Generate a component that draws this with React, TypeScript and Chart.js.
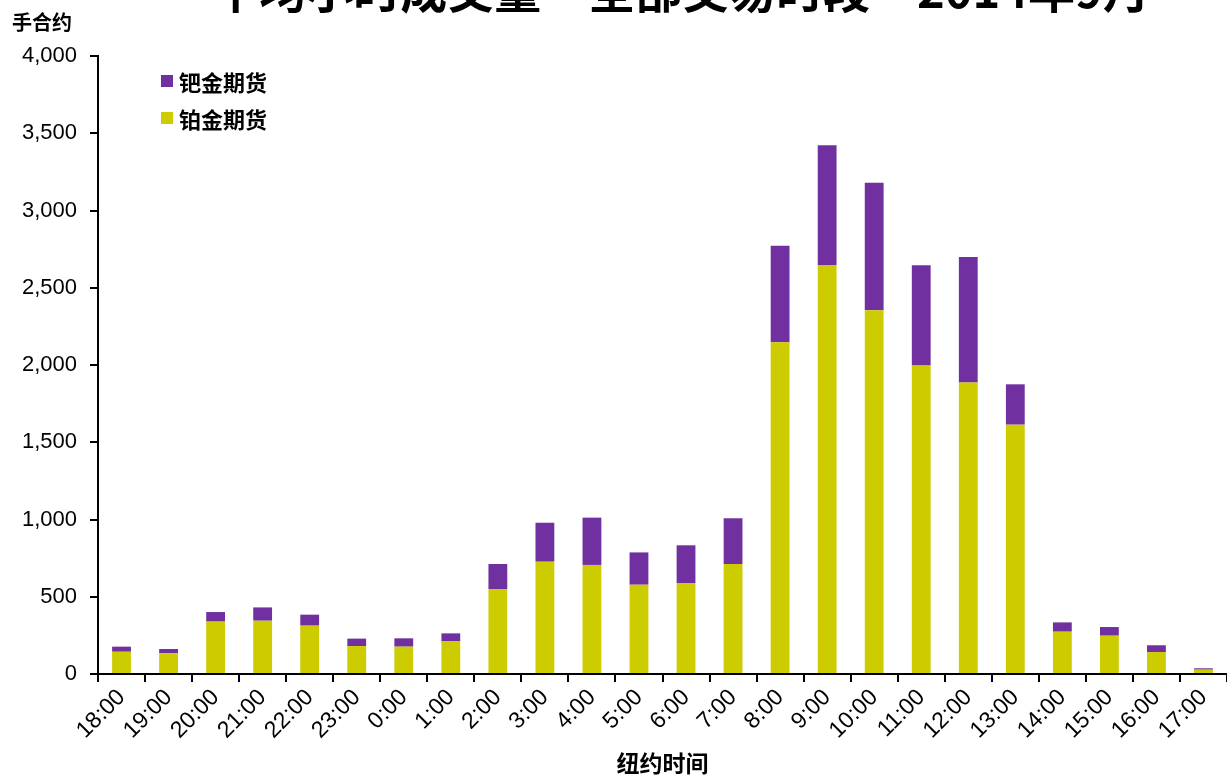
import { useEffect, useRef } from "react";
import { Chart, registerables } from "chart.js";

Chart.register(...registerables);

const hours = [
  "18:00", "19:00", "20:00", "21:00", "22:00", "23:00", "0:00", "1:00",
  "2:00", "3:00", "4:00", "5:00", "6:00", "7:00", "8:00", "9:00",
  "10:00", "11:00", "12:00", "13:00", "14:00", "15:00", "16:00", "17:00",
];
// 铂金期货 (bottom of each stack)
const platinum = [
  144, 134, 339, 345, 313, 181, 177, 211, 550, 727, 706, 578,
  589, 712, 2147, 2647, 2354, 1996, 1886, 1614, 274, 248, 142, 28,
];
// 钯金期货 (stacked on top)
const palladium = [
  33, 28, 62, 86, 71, 48, 54, 52, 162, 252, 306, 209,
  244, 296, 625, 775, 826, 649, 813, 261, 60, 56, 44, 9,
];
const seriesNames = ["铂金期货", "钯金期货"];
const seriesColors = ["#CCCC00", "#7030A0"];
const yMax = 4000;
const yStep = 500;

const titleText = "平均小时成交量 – 全部交易时段 – 2014年9月";
const unitText = "手合约";
const xTitle = "纽约时间";

const latin = '"Liberation Sans", Arial, sans-serif';
const cjk = '"Noto Sans CJK SC", "Liberation Sans", sans-serif';

const App = () => {
  const chartRef = useRef<HTMLCanvasElement | null>(null);

  useEffect(() => {
    if (!chartRef.current) return;

    const chartInstance = new Chart(chartRef.current, {
      type: "bar",
      data: {
        labels: hours,
        datasets: [
          {
            label: seriesNames[0],
            data: platinum,
            backgroundColor: seriesColors[0],
            categoryPercentage: 1,
            barPercentage: 0.4,
          },
          {
            label: seriesNames[1],
            data: palladium,
            backgroundColor: seriesColors[1],
            categoryPercentage: 1,
            barPercentage: 0.4,
          },
        ],
      },
      options: {
        animation: false,
        responsive: false,
        maintainAspectRatio: false,
        layout: { padding: { top: 56, right: 0, bottom: 0, left: 0 } },
        plugins: {
          legend: { display: false },
          title: { display: false },
          tooltip: { enabled: false },
        },
        scales: {
          x: {
            stacked: true,
            afterFit: (scale: any) => {
              scale.height = 102;
            },
            border: { display: true, color: "#000", width: 2 },
            grid: {
              display: true,
              drawOnChartArea: false,
              drawTicks: true,
              tickLength: 8,
              color: "#000",
              lineWidth: 2,
            },
            ticks: {
              autoSkip: false,
              minRotation: 45,
              maxRotation: 45,
              padding: 2,
              color: "#000",
              font: { family: latin, size: 23 },
            },
            title: {
              display: true,
              text: xTitle,
              color: "#000",
              padding: { top: 0, bottom: -1 },
              font: { family: cjk, size: 23, weight: "bold" },
            },
          },
          y: {
            stacked: true,
            min: 0,
            max: yMax,
            afterFit: (scale: any) => {
              scale.width = 98;
            },
            border: { display: true, color: "#000", width: 2 },
            grid: {
              display: true,
              drawOnChartArea: false,
              drawTicks: true,
              tickLength: 8,
              color: "#000",
              lineWidth: 2,
            },
            ticks: {
              stepSize: yStep,
              padding: 13,
              color: "#000",
              font: { family: latin, size: 22 },
              callback: (v: any) => Number(v).toLocaleString("en-US"),
            },
          },
        },
      },
    });

    return () => {
      chartInstance.destroy();
    };
  }, []);

  const legendOrder = [1, 0];

  return (
    <div
      style={{
        position: "fixed",
        left: 0,
        top: 0,
        width: 1227,
        height: 776,
        overflow: "hidden",
        background: "#fff",
      }}
    >
      <canvas ref={chartRef} width={1227} height={776} style={{ position: "absolute", left: 0, top: 0 }} />
      <div
        style={{
          position: "absolute",
          top: -36,
          left: 681 - 650,
          width: 1300,
          textAlign: "center",
          fontFamily: cjk,
          fontWeight: "bold",
          fontSize: 47,
          lineHeight: "47px",
          whiteSpace: "nowrap",
          color: "#000",
        }}
      >
        {titleText}
      </div>
      <div
        style={{
          position: "absolute",
          top: 10,
          left: 12,
          fontFamily: cjk,
          fontWeight: "bold",
          fontSize: 20,
          lineHeight: "24px",
          color: "#000",
        }}
      >
        {unitText}
      </div>
      <div style={{ position: "absolute", left: 161, top: 62 }}>
        {legendOrder.map((i) => (
          <div
            key={seriesNames[i]}
            style={{ display: "flex", alignItems: "center", height: 37 }}
          >
            <span
              style={{
                display: "inline-block",
                width: 12,
                height: 12,
                background: seriesColors[i],
                marginRight: 6,
              }}
            />
            <span
              style={{
                fontFamily: cjk,
                fontWeight: "bold",
                fontSize: 22,
                lineHeight: "26px",
                color: "#000",
              }}
            >
              {seriesNames[i]}
            </span>
          </div>
        ))}
      </div>
    </div>
  );
};

export default App;
